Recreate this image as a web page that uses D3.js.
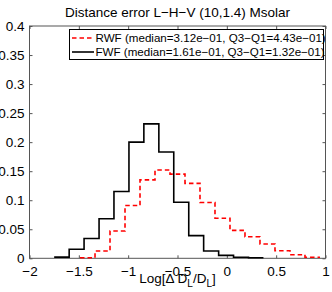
<!DOCTYPE html>
<html>
<head>
<meta charset="utf-8">
<script src="https://cdn.jsdelivr.net/npm/d3@7"></script>
<style>
  body { margin: 0; background: #fff; }
  text { font-family: "Liberation Sans", Arial, sans-serif; fill: #000; }
</style>
</head>
<body>
<div class="chart"></div>
<script>
// bin edges (log10 units) and normalised counts
const rwfEdges = [-1.488, -1.336, -1.184, -1.032, -0.880, -0.728, -0.576, -0.424, -0.272,
                  -0.120, 0.032, 0.184, 0.336, 0.488, 0.640, 0.792, 0.944];
const rwfValues = [0.001, 0.0126, 0.047, 0.091, 0.135, 0.152, 0.145, 0.129,
                   0.096, 0.069, 0.048, 0.037, 0.0247, 0.013, 0.0062, 0.0017];

const fwfEdges = [-1.750, -1.598, -1.447, -1.295, -1.144, -0.992, -0.841, -0.689,
                  -0.538, -0.386, -0.235, -0.083, 0.068, 0.220, 0.371];
const fwfValues = [0.002, 0.0155, 0.034, 0.068, 0.115, 0.200, 0.2315,
                   0.183, 0.0966, 0.039, 0.0126, 0.005, 0.0017, 0.001];

const xTicks = [-2, -1.5, -1, -0.5, 0, 0.5, 1];
const yTicks = [0, 0.05, 0.1, 0.15, 0.2, 0.25, 0.3, 0.35, 0.4];
const legendLabels = [
    "RWF (median=3.12e\u221201, Q3\u2212Q1=4.43e\u221201)",
    "FWF (median=1.61e\u221201, Q3\u2212Q1=1.32e\u221201)"
];

const width = 332;
const height = 292;
const marginTop = 26;
const marginRight = 6.5;
const marginBottom = 33.7;
const marginLeft = 29.5;

const x = d3.scaleLinear()
    .domain([-2, 1])
    .range([marginLeft, width - marginRight]);

const y = d3.scaleLinear()
    .domain([0, 0.4])
    .range([height - marginBottom, marginTop]);

const svg = d3.select('.chart').append("svg")
    .attr("width", width)
    .attr("height", height);

const fmt = d => d < 0 ? "\u2212" + Math.abs(d) : String(d);

// bottom + top axes (ticks inside)
svg.append("g")
    .attr("transform", `translate(0,${height - marginBottom})`)
    .call(d3.axisBottom(x).tickValues(xTicks).tickSize(-3).tickPadding(6).tickFormat(fmt))
    .call(g => g.select(".domain").remove())
    .call(g => g.selectAll("text").attr("font-size", 13.5).attr("dy", "0.85em"));

svg.append("g")
    .attr("transform", `translate(0,${marginTop})`)
    .call(d3.axisTop(x).tickValues(xTicks).tickSize(-3).tickFormat(""))
    .call(g => g.select(".domain").remove());

svg.append("g")
    .attr("transform", `translate(${marginLeft},0)`)
    .call(d3.axisLeft(y).tickValues(yTicks).tickSize(-3).tickPadding(5).tickFormat(d => d))
    .call(g => g.select(".domain").remove())
    .call(g => g.selectAll("text").attr("font-size", 13.5));

svg.append("g")
    .attr("transform", `translate(${width - marginRight},0)`)
    .call(d3.axisRight(y).tickValues(yTicks).tickSize(-3).tickFormat(""))
    .call(g => g.select(".domain").remove());

svg.selectAll(".tick line").attr("stroke", "#555");

// box
svg.append("rect")
    .attr("x", x(-2))
    .attr("y", y(0.4))
    .attr("width", x(1) - x(-2))
    .attr("height", y(0) - y(0.4))
    .attr("fill", "none")
    .attr("stroke", "#555")
    .attr("stroke-width", 1);

// stairs line from edges + values
function stairs(edges, values) {
    const pts = [];
    values.forEach((v, i) => {
        pts.push([edges[i], v]);
        pts.push([edges[i + 1], v]);
    });
    return d3.line().x(d => x(d[0])).y(d => y(d[1]))(pts);
}

svg.append("path")
    .attr("d", stairs(rwfEdges, rwfValues))
    .attr("fill", "none")
    .attr("stroke", "#ff0000")
    .attr("stroke-width", 1.6)
    .attr("stroke-dasharray", "4.5,3");

svg.append("path")
    .attr("d", stairs(fwfEdges, fwfValues))
    .attr("fill", "none")
    .attr("stroke", "#000")
    .attr("stroke-width", 1.6);

// title
svg.append("text")
    .attr("x", (x(-2) + x(1)) / 2)
    .attr("y", 17)
    .attr("text-anchor", "middle")
    .attr("font-size", 13.5)
    .text("Distance error L\u2212H\u2212V (10,1.4) Msolar");

// x label
const xl = svg.append("text")
    .attr("x", (x(-2) + x(1)) / 2)
    .attr("y", 283)
    .attr("text-anchor", "middle")
    .attr("font-size", 13.5);
xl.append("tspan").text("Log[\u0394 D");
xl.append("tspan").attr("font-size", 10).attr("dy", 4).text("L");
xl.append("tspan").attr("dy", -4).text("/D");
xl.append("tspan").attr("font-size", 10).attr("dy", 4).text("L");
xl.append("tspan").attr("dy", -4).text("]");

// legend
const legend = svg.append("g");
legend.append("rect")
    .attr("x", 69.5)
    .attr("y", 29.5)
    .attr("width", 254)
    .attr("height", 30)
    .attr("fill", "#fff")
    .attr("stroke", "#000")
    .attr("stroke-width", 1);

const rows = [
    { label: legendLabels[0], color: "#ff0000", dash: "4.5,3", y: 38 },
    { label: legendLabels[1], color: "#000", dash: null, y: 52 }
];

rows.forEach(r => {
    legend.append("line")
        .attr("x1", 72).attr("x2", 94)
        .attr("y1", r.y).attr("y2", r.y)
        .attr("stroke", r.color)
        .attr("stroke-width", 1.6)
        .attr("stroke-dasharray", r.dash);
    legend.append("text")
        .attr("x", 95.5)
        .attr("y", r.y)
        .attr("dy", "0.35em")
        .attr("font-size", 11.6)
        .text(r.label);
});
</script>
</body>
</html>
